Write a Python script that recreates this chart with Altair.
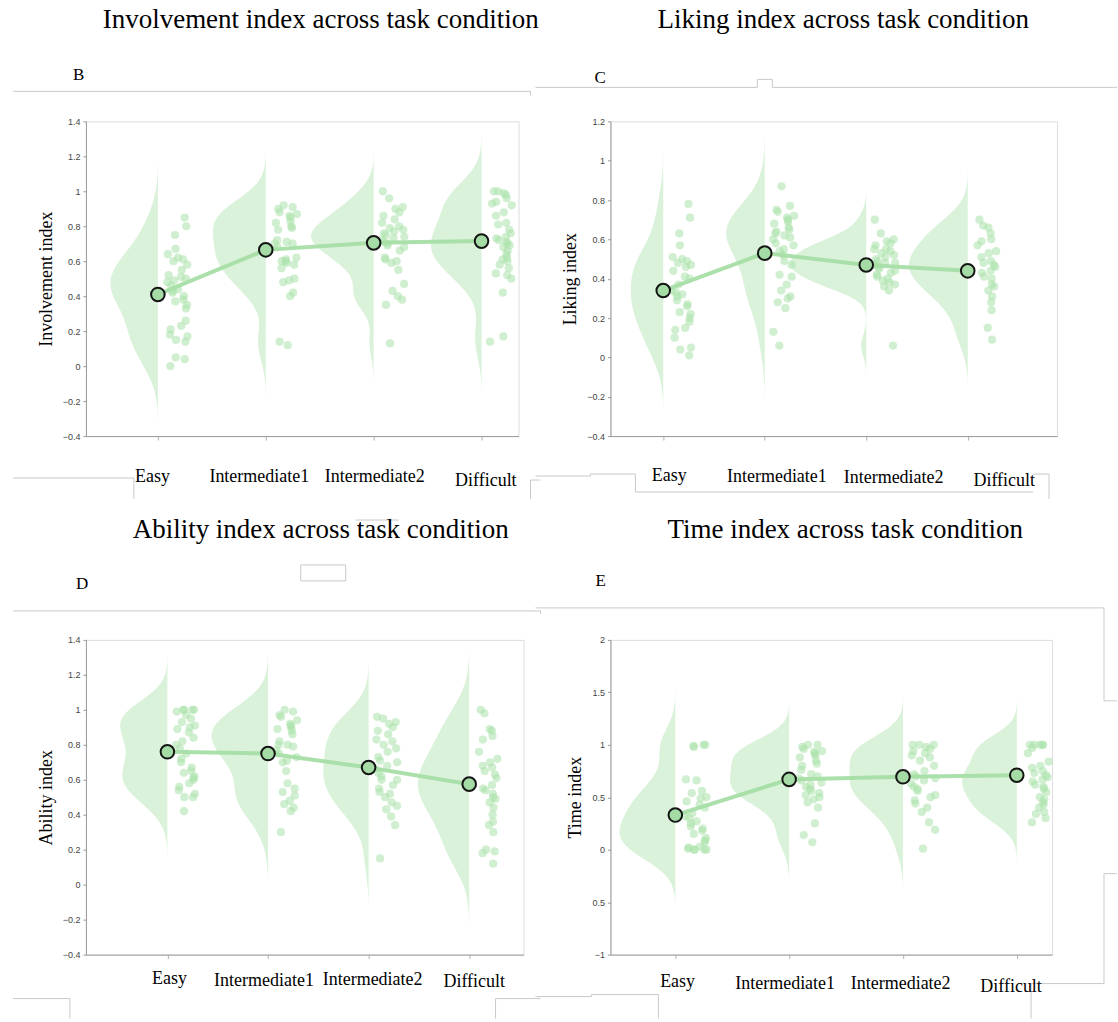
import altair as alt
import pandas as pd

conditions = ["Easy", "Intermediate1", "Intermediate2", "Difficult"]

# ---- B: Involvement index ----
inv_easy = [0.85, 0.80, 0.75, 0.67, 0.64, 0.62, 0.61, 0.60, 0.58, 0.55, 0.52, 0.51, 0.50, 0.49, 0.48, 0.46, 0.44,
            0.43, 0.42, 0.40, 0.38, 0.37, 0.35, 0.33, 0.26, 0.23, 0.21, 0.18, 0.17, 0.15, 0.14, 0.05, 0.04, 0.0]
inv_int1 = [0.92, 0.91, 0.90, 0.88, 0.87, 0.86, 0.85, 0.83, 0.82, 0.80, 0.79, 0.78, 0.72, 0.71, 0.70, 0.70,
            0.68, 0.62, 0.61, 0.60, 0.60, 0.59, 0.58, 0.56, 0.50, 0.49, 0.48, 0.42, 0.40, 0.14, 0.12]
inv_int2 = [1.0, 0.96, 0.91, 0.90, 0.88, 0.86, 0.84, 0.82, 0.80, 0.79, 0.78, 0.77, 0.76, 0.75, 0.74, 0.73, 0.72,
            0.71, 0.70, 0.69, 0.68, 0.66, 0.62, 0.61, 0.60, 0.59, 0.55, 0.47, 0.43, 0.40, 0.38, 0.35, 0.13]
inv_diff = [1.0, 1.0, 0.99, 0.98, 0.96, 0.94, 0.93, 0.92, 0.88, 0.86, 0.82, 0.81, 0.78, 0.76, 0.74, 0.73, 0.72,
            0.71, 0.70, 0.69, 0.68, 0.66, 0.64, 0.62, 0.61, 0.60, 0.58, 0.56, 0.53, 0.52, 0.50, 0.42, 0.17, 0.14]
inv_means = [0.41, 0.665, 0.705, 0.715]

# ---- C: Liking index ----
lik_easy = [0.78, 0.71, 0.63, 0.57, 0.51, 0.50, 0.49, 0.48, 0.47, 0.46, 0.44, 0.41, 0.40, 0.37, 0.34, 0.33,
            0.32, 0.31, 0.29, 0.27, 0.26, 0.23, 0.22, 0.20, 0.18, 0.15, 0.14, 0.10, 0.05, 0.04, 0.01]
lik_int1 = [0.87, 0.77, 0.75, 0.74, 0.72, 0.71, 0.70, 0.69, 0.68, 0.66, 0.65, 0.64, 0.63, 0.62, 0.61, 0.60,
            0.58, 0.57, 0.55, 0.54, 0.52, 0.49, 0.47, 0.42, 0.41, 0.37, 0.34, 0.31, 0.30, 0.28, 0.25, 0.13, 0.06]
lik_int2 = [0.70, 0.63, 0.60, 0.59, 0.58, 0.57, 0.55, 0.55, 0.54, 0.53, 0.52, 0.51, 0.50, 0.49, 0.48, 0.48,
            0.47, 0.47, 0.46, 0.45, 0.44, 0.43, 0.42, 0.41, 0.40, 0.39, 0.38, 0.37, 0.36, 0.34, 0.06]
lik_diff = [0.70, 0.67, 0.66, 0.63, 0.60, 0.59, 0.57, 0.54, 0.53, 0.51, 0.49, 0.48, 0.47, 0.46, 0.44, 0.43,
            0.41, 0.40, 0.37, 0.36, 0.34, 0.31, 0.28, 0.24, 0.15, 0.09]
lik_means = [0.34, 0.53, 0.47, 0.44]

# ---- D: Ability index ----
abi_easy = [1.0, 1.0, 1.0, 1.0, 0.99, 0.97, 0.95, 0.93, 0.91, 0.90, 0.89, 0.87, 0.84, 0.82, 0.80, 0.78, 0.75,
            0.72, 0.70, 0.67, 0.65, 0.64, 0.62, 0.61, 0.60, 0.58, 0.56, 0.54, 0.52, 0.50, 0.50, 0.42]
abi_int1 = [1.0, 0.99, 0.97, 0.96, 0.94, 0.92, 0.91, 0.90, 0.89, 0.88, 0.86, 0.82, 0.80, 0.80, 0.79, 0.77,
            0.75, 0.73, 0.71, 0.70, 0.65, 0.58, 0.55, 0.53, 0.51, 0.48, 0.46, 0.44, 0.42, 0.30]
abi_int2 = [0.96, 0.95, 0.93, 0.92, 0.90, 0.88, 0.86, 0.83, 0.82, 0.80, 0.78, 0.76, 0.73, 0.71, 0.70, 0.68,
            0.66, 0.64, 0.62, 0.60, 0.60, 0.57, 0.55, 0.53, 0.52, 0.50, 0.47, 0.45, 0.43, 0.39, 0.34, 0.15]
abi_diff = [1.0, 0.98, 0.89, 0.88, 0.85, 0.83, 0.76, 0.72, 0.70, 0.68, 0.67, 0.65, 0.63, 0.61, 0.57, 0.55,
            0.54, 0.52, 0.50, 0.49, 0.47, 0.44, 0.40, 0.36, 0.34, 0.30, 0.20, 0.19, 0.18, 0.12]
abi_means = [0.76, 0.75, 0.67, 0.575]

# ---- E: Time index ----
tim_easy = [1.0, 1.0, 0.99, 0.98, 0.67, 0.66, 0.56, 0.54, 0.50, 0.49, 0.46, 0.43, 0.40, 0.35, 0.32, 0.30,
            0.27, 0.25, 0.22, 0.20, 0.18, 0.15, 0.11, 0.09, 0.07, 0.03, 0.02, 0.01, 0.0, 0.0, 0.0, 0.0]
tim_int1 = [1.0, 1.0, 0.98, 0.96, 0.94, 0.93, 0.92, 0.90, 0.88, 0.85, 0.82, 0.80, 0.76, 0.72, 0.70, 0.68,
            0.66, 0.64, 0.62, 0.60, 0.58, 0.56, 0.54, 0.52, 0.50, 0.48, 0.45, 0.40, 0.25, 0.14, 0.07]
tim_int2 = [1.0, 1.0, 1.0, 0.98, 0.96, 0.94, 0.92, 0.90, 0.88, 0.85, 0.80, 0.75, 0.72, 0.70, 0.68, 0.66,
            0.63, 0.60, 0.58, 0.56, 0.52, 0.50, 0.47, 0.44, 0.40, 0.36, 0.26, 0.19, 0.01]
tim_diff = [1.0, 1.0, 1.0, 1.0, 1.0, 0.97, 0.92, 0.84, 0.80, 0.78, 0.75, 0.73, 0.71, 0.69, 0.67, 0.65, 0.62,
            0.60, 0.58, 0.55, 0.50, 0.48, 0.45, 0.43, 0.40, 0.36, 0.34, 0.30, 0.26]
tim_means = [0.33, 0.67, 0.695, 0.71]

# ---- style: half-violin max widths (category units) ----
inv_cloud_w = [0.44, 0.49, 0.58, 0.47]
lik_cloud_w = [0.32, 0.38, 0.75, 0.58]
abi_cloud_w = [0.47, 0.56, 0.45, 0.51]
tim_cloud_w = [0.49, 0.52, 0.47, 0.48]

# ---- style: category label nudges (category units) and baselines (px below plot top) ----
inv_lab_dx = [-0.05, -0.06, 0.01, 0.04]
inv_lab_y = [361, 361, 361, 365]
lik_lab_dx = [0.06, 0.12, 0.27, 0.36]
lik_lab_y = [360, 361, 362, 365]
abi_lab_dx = [0.02, -0.04, 0.04, 0.05]
abi_lab_y = [344, 346, 345, 347]
tim_lab_dx = [0.02, -0.035, -0.02, -0.05]
tim_lab_y = [347, 349, 349, 352]

# ---- style: light grey page-frame fragments seen in the figure (page px: x1, y1, x2, y2) ----
frame_segments = [
    (12, 92, 530, 92), (530, 92, 530, 96),
    (12, 479, 133, 479), (133, 479, 133, 500), (530, 481, 540, 481), (530, 481, 530, 500),
    (535, 88, 757, 88), (757, 80, 757, 88), (757, 80, 772, 80), (772, 80, 772, 88), (772, 88, 1117, 88),
    (535, 477, 590, 477), (590, 475, 590, 477), (590, 475, 635, 475), (635, 475, 635, 493),
    (635, 493, 1033, 493), (1033, 475, 1049, 475), (1049, 475, 1049, 500),
    (355, 521, 398, 521),
    (300, 566, 345, 566), (300, 566, 300, 582), (345, 566, 345, 582), (300, 582, 345, 582),
    (12, 612, 540, 612), (540, 612, 540, 615),
    (12, 1000, 69, 1000), (69, 1000, 69, 1020), (495, 1000, 540, 1000), (495, 1000, 495, 1020),
    (535, 609, 1104, 609), (1104, 609, 1104, 702), (1104, 702, 1117, 702),
    (1104, 875, 1117, 875), (1104, 875, 1104, 985), (1031, 985, 1104, 985), (1031, 985, 1031, 1020),
    (535, 998, 591, 998), (591, 996, 591, 998), (591, 996, 658, 996), (658, 996, 658, 1020),
]

SERIF = "Liberation Serif"
SANS = "Liberation Sans"
CLOUD = "#daf2da"
DOT = "#a9e2a9"
LINE = "#a6dea6"
MARK = "#a5dca5"
ORIGIN = (85, 122)   # page position of the first panel's plot area


def panel(letter, title, ytitle, series, means, cloud_w, lab_dx, lab_y, ydom, yvals, xdom, width, height,
          title_pos, letter_pos, ylabel_expr=None, extra=None):
    rows = []
    for k, (cond, vals) in enumerate(zip(conditions, series)):
        for i, v in enumerate(vals):
            rows.append({"cond": cond, "idx": k, "value": v, "i": i + 31 * k, "w": cloud_w[k]})
    df = pd.DataFrame(rows)
    mdf = pd.DataFrame({"cond": conditions, "idx": [0, 1, 2, 3], "mean": means,
                        "dx": lab_dx, "ly": lab_y})

    xs = alt.Scale(domain=xdom, nice=False, zero=False)
    ys = alt.Scale(domain=ydom, nice=False, zero=False)
    xaxis = alt.Axis(values=[0, 1, 2, 3], title=None, grid=False, labels=False,
                     tickSize=4, tickColor="#b0b0b0", domainColor="#9a9a9a")
    yargs = dict(values=yvals, title=ytitle, grid=False, format="~g",
                 labelFont=SANS, labelFontSize=9, labelColor="#444", labelPadding=3,
                 tickSize=3, tickColor="#9a9a9a", domainColor="#9a9a9a",
                 titleFont=SERIF, titleFontSize=18, titleFontWeight="normal", titleColor="#000",
                 titlePadding=7)
    if ylabel_expr:
        yargs["labelExpr"] = ylabel_expr
    yaxis = alt.Axis(**yargs)

    base = alt.Chart(df)
    cloud = (base.transform_density("value", groupby=["cond", "idx", "w"], extent=ydom, steps=240,
                                    as_=["value", "density"])
             .transform_joinaggregate(dmax="max(density)", groupby=["cond"])
             .transform_calculate(xl="datum.idx - datum.w * datum.density / datum.dmax")
             .mark_area(orient="horizontal", color=CLOUD, opacity=1, clip=True)
             .encode(y=alt.Y("value:Q", scale=ys, axis=yaxis),
                     x=alt.X("xl:Q", scale=xs, axis=xaxis),
                     x2="idx:Q", detail="cond:N"))
    # deterministic horizontal scatter of the raw points beside each cloud (layout only)
    dots = (base.transform_calculate(
                jit="abs(sin(datum.i * 12.9898 + 1.7) * 43758.5453) % 1",
                xj="datum.idx + 0.07 + 0.22 * datum.jit")
            .mark_circle(size=68, color=DOT, opacity=0.55)
            .encode(x=alt.X("xj:Q", scale=xs, axis=xaxis), y=alt.Y("value:Q", scale=ys, axis=yaxis)))
    mline = (alt.Chart(mdf).mark_line(color=LINE, strokeWidth=4, opacity=0.95)
             .encode(x=alt.X("idx:Q", scale=xs, axis=xaxis), y=alt.Y("mean:Q", scale=ys, axis=yaxis)))
    mpts = (alt.Chart(mdf).mark_point(filled=True, shape="circle", size=185, fill=MARK, stroke="#151515",
                                      strokeWidth=2, opacity=1)
            .encode(x=alt.X("idx:Q", scale=xs, axis=xaxis), y=alt.Y("mean:Q", scale=ys, axis=yaxis)))
    labs = (alt.Chart(mdf).transform_calculate(lx="datum.idx + datum.dx")
            .mark_text(font=SERIF, fontSize=18, color="#000", align="center", baseline="alphabetic")
            .encode(x=alt.X("lx:Q", scale=xs, axis=xaxis), y=alt.Y("ly:Q", scale=None), text="cond:N"))
    tdf = pd.DataFrame({"t": [title], "l": [letter]})
    ttl = (alt.Chart(tdf).mark_text(font=SERIF, fontSize=27, color="#000", align="center",
                                    baseline="alphabetic")
           .encode(x=alt.value(title_pos[0]), y=alt.value(title_pos[1]), text="t:N"))
    let = (alt.Chart(tdf).mark_text(font=SERIF, fontSize=17, color="#000", align="left",
                                    baseline="alphabetic")
           .encode(x=alt.value(letter_pos[0]), y=alt.value(letter_pos[1]), text="l:N"))
    layers = [cloud, dots, mline, mpts, labs, ttl, let]
    if extra is not None:
        layers.insert(0, extra)
    return alt.layer(*layers).properties(width=width, height=height)


fdf = pd.DataFrame(frame_segments, columns=["x1", "y1", "x2", "y2"])
fdf[["x1", "x2"]] -= ORIGIN[0]
fdf[["y1", "y2"]] -= ORIGIN[1]
frame = (alt.Chart(fdf).mark_rule(color="#c9c9c9", strokeWidth=1)
         .encode(x=alt.X("x1:Q", scale=None), x2="x2:Q", y=alt.Y("y1:Q", scale=None), y2="y2:Q"))

pB = panel("B", "Involvement index across task condition", "Involvement index",
           [inv_easy, inv_int1, inv_int2, inv_diff], inv_means, inv_cloud_w, inv_lab_dx, inv_lab_y,
           [-0.4, 1.4], [-0.4, -0.2, 0, 0.2, 0.4, 0.6, 0.8, 1, 1.2, 1.4], [-0.667, 3.343], 433, 315,
           (235, -93), (-13, -41), extra=frame)
pC = panel("C", "Liking index across task condition", "Liking index",
           [lik_easy, lik_int1, lik_int2, lik_diff], lik_means, lik_cloud_w, lik_lab_dx, lik_lab_y,
           [-0.4, 1.2], [-0.4, -0.2, 0, 0.2, 0.4, 0.6, 0.8, 1, 1.2], [-0.52, 3.88], 447, 315,
           (233, -93), (-16, -38))
pD = panel("D", "Ability index across task condition", "Ability index",
           [abi_easy, abi_int1, abi_int2, abi_diff], abi_means, abi_cloud_w, abi_lab_dx, abi_lab_y,
           [-0.4, 1.4], [-0.4, -0.2, 0, 0.2, 0.4, 0.6, 0.8, 1, 1.2, 1.4], [-0.81, 3.54], 438, 315,
           (235, -102), (-10, -51))
pE = panel("E", "Time index across task condition", "Time index",
           [tim_easy, tim_int1, tim_int2, tim_diff], tim_means, tim_cloud_w, tim_lab_dx, tim_lab_y,
           [-1, 2], [-1, -0.5, 0, 0.5, 1, 1.5, 2], [-0.57, 3.31], 442, 315,
           (235, -102), (-15, -54),
           ylabel_expr="datum.value == -0.5 ? '0.5' : format(datum.value, '~g')")

chart = (alt.concat(pB, pC, pD, pE, columns=2, spacing={"row": 204, "column": 87}, bounds="flush")
         .properties(padding={"left": 12, "top": 5, "right": 0, "bottom": 0})
         .configure_view(stroke=None)
         .configure(background="white"))

chart.save("out.html", embed_options={"renderer": "svg", "actions": False})
